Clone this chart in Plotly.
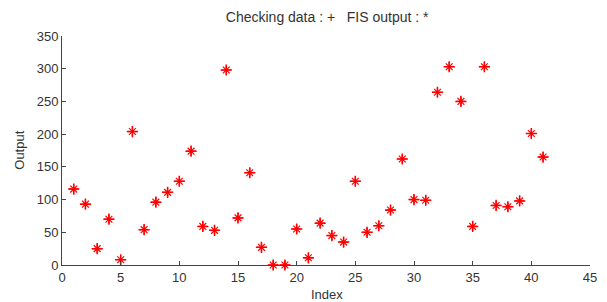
import plotly.graph_objects as go

index = list(range(1, 42))
checking_data = [116, 93, 25, 70, 8, 204, 54, 96, 111, 128, 174, 59, 53, 298, 72,
                 141, 27, 0, 0, 55, 11, 64, 45, 35, 128, 50, 60, 84, 162, 100,
                 99, 264, 303, 250, 59, 303, 91, 89, 98, 201, 165]
fis_output = [116, 93, 25, 70, 8, 204, 54, 96, 111, 128, 174, 59, 53, 298, 72,
              141, 27, 0, 0, 55, 11, 64, 45, 35, 128, 50, 60, 84, 162, 100,
              99, 264, 303, 250, 59, 303, 91, 89, 98, 201, 165]
x_ticks = [0, 5, 10, 15, 20, 25, 30, 35, 40, 45]
y_ticks = [0, 50, 100, 150, 200, 250, 300, 350]

FONT = "Liberation Sans, Arial"
TXT = "#333"

fig = go.Figure()
fig.add_trace(go.Scatter(x=index, y=checking_data, mode="markers", name="Checking data",
                         marker=dict(symbol="cross-thin-open", size=8, color="red",
                                     line=dict(color="red", width=1.5)),
                         cliponaxis=False))
fig.add_trace(go.Scatter(x=index, y=fis_output, mode="markers", name="FIS output",
                         marker=dict(symbol="asterisk-open", size=8, color="red",
                                     line=dict(color="red", width=1.2)),
                         cliponaxis=False))

axis_common = dict(showgrid=False, zeroline=False, showline=True, linecolor="#444",
                   linewidth=1, ticks="inside", ticklen=4, tickcolor="#444",
                   automargin=False,
                   tickfont=dict(family=FONT, size=13, color=TXT))
fig.update_layout(
    width=607, height=302,
    margin=dict(l=62, r=17, t=36, b=37),
    paper_bgcolor="white", plot_bgcolor="white",
    showlegend=False,
    font=dict(family=FONT, size=13, color=TXT),
    title=dict(text="Checking data : +   FIS output : *", x=0.539, xanchor="center",
               y=0.945, yanchor="middle", font=dict(size=14, color=TXT)),
    xaxis=dict(range=[0, 45], tickvals=x_ticks, **axis_common),
    yaxis=dict(range=[0, 350], tickvals=y_ticks, **axis_common),
    annotations=[
        dict(text="Index", xref="paper", yref="paper", x=0.502, y=-0.131,
             xanchor="center", yanchor="middle", showarrow=False,
             font=dict(family=FONT, size=13, color=TXT)),
        dict(text="Output", xref="paper", yref="paper", x=-0.081, y=0.5,
             xanchor="center", yanchor="middle", textangle=-90, showarrow=False,
             font=dict(family=FONT, size=13, color=TXT)),
    ],
)
fig.write_html("out.html", config={"displayModeBar": False},
               post_script="document.body.style.margin='0';document.body.style.overflow='hidden';")
